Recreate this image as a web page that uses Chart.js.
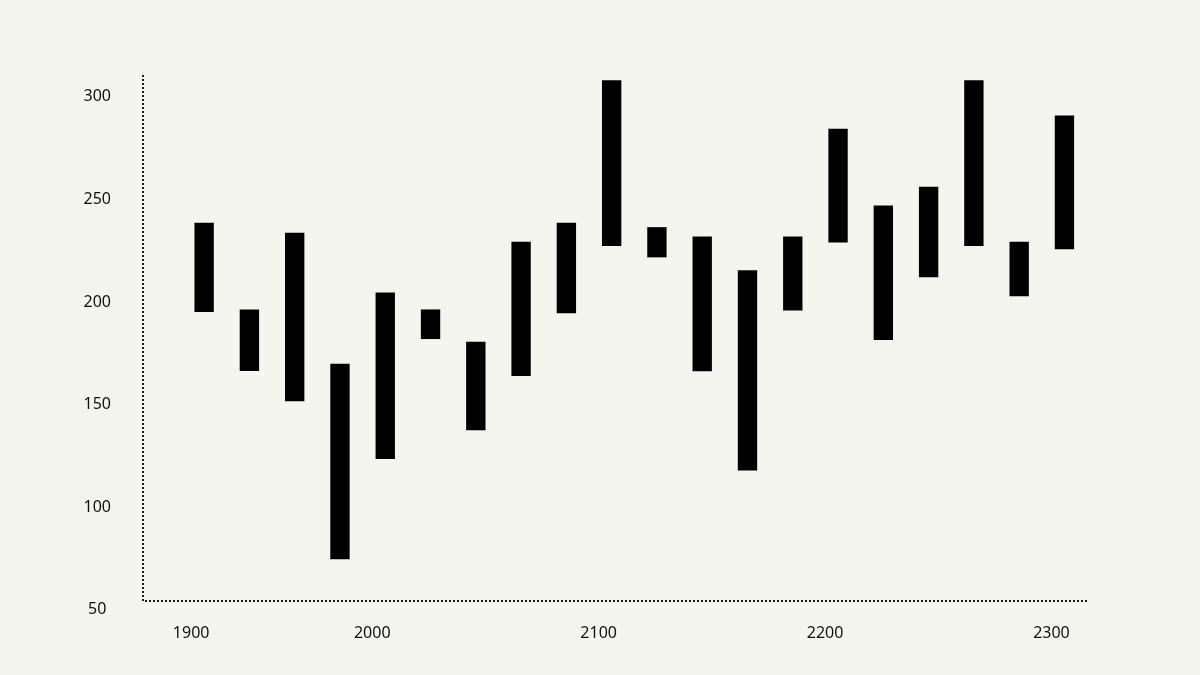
<!DOCTYPE html>
<html>
<head>
<meta charset="utf-8">
<script src="https://cdn.jsdelivr.net/npm/chart.js@4/dist/chart.umd.min.js"></script>
<style>
  html, body { margin: 0; padding: 0; background: #f5f5ef; }
  #wrap { width: 1200px; height: 675px; }
</style>
</head>
<body>
<div id="wrap"><canvas id="chart" width="1200" height="675"></canvas></div>
<script>
// x labels, one slot per bar (blank = no label shown)
const xLabels = ['1900', '', '', '', '2000', '', '', '', '', '2100',
                 '', '', '', '', '2200', '', '', '', '', '2300'];
const lowValues  = [195.3, 166.5, 151.8, 74.8, 123.6, 182.1, 137.6, 164.1, 194.7, 227.4,
                    221.9, 166.4, 118.1, 196.0, 229.1, 181.6, 212.2, 227.4, 202.9, 225.8];
const highValues = [238.5, 196.2, 233.6, 169.8, 204.4, 196.2, 180.5, 229.2, 238.5, 307.9,
                    236.3, 231.7, 215.3, 231.7, 284.2, 246.8, 256.0, 307.9, 229.2, 290.7];
const yTicks = [50, 100, 150, 200, 250, 300];

const points = xLabels.map((_, i) => ({ x: i, y: [lowValues[i], highValues[i]] }));

// border.dash only dashes grid lines, so the dotted axis lines are stroked here
const dottedAxes = {
    id: 'dottedAxes',
    afterDraw(chart) {
        const { ctx, chartArea: a } = chart;
        ctx.save();
        ctx.strokeStyle = '#1a1a1a';
        ctx.lineWidth = 2;
        ctx.setLineDash([2, 2]);
        ctx.beginPath();
        ctx.moveTo(a.left, a.top);
        ctx.lineTo(a.left, a.bottom);
        ctx.lineTo(a.right, a.bottom);
        ctx.stroke();
        ctx.restore();
    }
};

const ctx = document.getElementById('chart').getContext('2d');
new Chart(ctx, {
    type: 'bar',
    data: {
        datasets: [{
            data: points,
            backgroundColor: '#000000',
            borderWidth: 0,
            barThickness: 18.7
        }]
    },
    options: {
        responsive: false,
        animation: false,
        layout: { padding: { top: 75, right: 112, left: 0, bottom: 0 } },
        plugins: {
            legend: { display: false },
            tooltip: { enabled: false }
        },
        scales: {
            x: {
                type: 'linear',
                offset: false,
                min: -1.35,
                max: 19.52,
                grid: { display: false, drawTicks: false },
                border: { display: false },
                afterBuildTicks: (scale) => {
                    scale.ticks = xLabels
                        .map((l, i) => ({ value: i, label: l }))
                        .filter(t => t.label !== '');
                },
                afterFit: (scale) => { scale.height = 74; },
                ticks: {
                    autoSkip: false,
                    maxRotation: 0,
                    padding: 23,
                    labelOffset: -13,
                    color: '#111111',
                    font: { family: 'Noto Sans', size: 16 },
                    callback: (v) => xLabels[v]
                }
            },
            y: {
                min: 54.3,
                max: 310.6,
                grid: { display: false, drawTicks: false },
                border: { display: false },
                afterBuildTicks: (scale) => {
                    scale.ticks = yTicks.map(v => ({ value: v }));
                },
                afterFit: (scale) => { scale.width = 143; },
                ticks: {
                    crossAlign: 'center',
                    padding: 32,
                    color: '#111111',
                    font: { family: 'Noto Sans', size: 16 }
                }
            }
        }
    },
    plugins: [dottedAxes]
});
</script>
</body>
</html>
